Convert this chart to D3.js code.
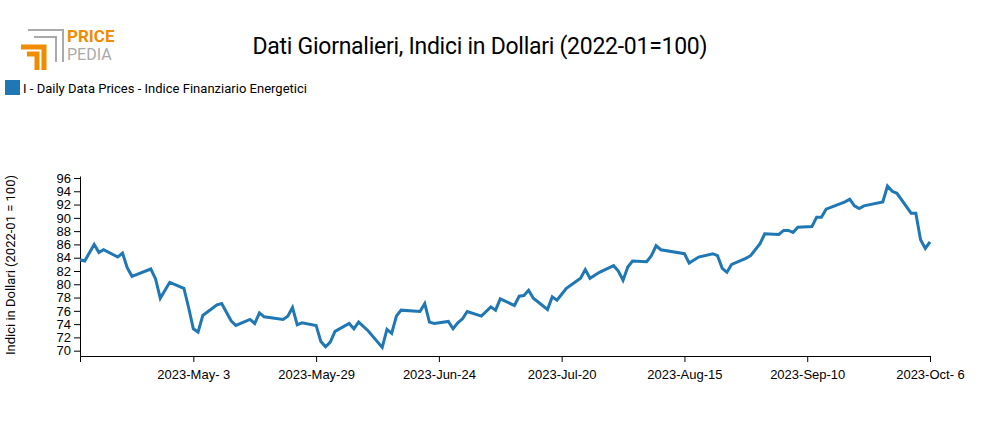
<!DOCTYPE html>
<html><head><meta charset="utf-8">
<script src="https://cdn.jsdelivr.net/npm/d3@7.9.0/dist/d3.min.js"></script>
<style>body{margin:0;background:#fff;font-family:Roboto,sans-serif}</style>
</head><body><svg id="chart" width="985" height="430"></svg>
<script>
// days since 2023-04-09 and index values
const startDate = new Date(2023, 3, 9);
const days = [0,1,3,4,5,8,9,10,11,15,16,17,19,22,23,24,25,26,29,30,32,33,36,37,38,39,43,44,45,46,47,50,51,52,53,54,57,58,59,61,64,65,66,67,68,72,73,74,75,78,79,80,81,82,85,87,88,89,92,93,94,95,96,99,100,101,102,103,106,107,108,110,113,114,115,116,117,120,121,122,123,128,129,131,134,135,136,137,138,141,142,144,145,148,149,150,151,152,155,156,157,158,162,163,164,165,166,170,171,172,173,176,177,178,179,180];
const values = [83.7,83.5,86.0,84.8,85.2,84.1,84.7,82.5,81.2,82.3,80.8,77.9,80.3,79.4,76.5,73.3,72.8,75.3,76.9,77.1,74.5,73.8,74.7,74.1,75.7,75.1,74.7,75.2,76.5,73.9,74.2,73.8,71.4,70.6,71.3,72.9,74.1,73.3,74.3,73.0,70.5,73.2,72.6,75.2,76.1,75.9,77.1,74.3,74.1,74.4,73.3,74.2,74.8,75.9,75.2,76.6,76.1,77.8,76.8,78.2,78.3,79.1,77.9,76.2,78.1,77.6,78.5,79.4,80.9,82.2,80.9,81.8,82.8,82.0,80.6,82.6,83.5,83.4,84.3,85.8,85.2,84.6,83.2,84.1,84.6,84.3,82.4,81.8,83.0,83.9,84.3,86.1,87.6,87.5,88.1,88.1,87.8,88.6,88.7,90.1,90.1,91.3,92.4,92.8,91.8,91.4,91.8,92.4,94.8,94.0,93.7,90.7,90.7,86.7,85.4,86.4];
const tickDates = ["2023-05-03","2023-05-29","2023-06-24","2023-07-20","2023-08-15","2023-09-10","2023-10-06"];
const yTicks = d3.range(70, 97, 2);

const data = days.map((d, i) => ({date: d3.timeDay.offset(startDate, d), value: values[i]}));
const svg = d3.select("#chart");
const margin = {left: 80, right: 55, top: 176, bottom: 74};
const width = 985 - margin.left - margin.right, height = 430 - margin.top - margin.bottom;

// logo
const logo = svg.append("g");
logo.append("path").attr("d","M28,30 H63 V62 M34,37 H56 V62").attr("fill","none").attr("stroke","#aaa").attr("stroke-width",2);
logo.append("path").attr("d","M21,47 H44 V70 M27,54 H37 V70").attr("fill","none").attr("stroke","#f08c00").attr("stroke-width",5);
logo.append("text").attr("x",67).attr("y",42).attr("font-size",17).attr("font-weight","bold").attr("fill","#f08c00").text("PRICE");
logo.append("text").attr("x",67).attr("y",60).attr("font-size",16).attr("fill","#aaa").text("PEDIA");

svg.append("text").attr("x",480).attr("y",54).attr("text-anchor","middle").attr("font-size",23)
  .attr("textLength",455).text("Dati Giornalieri, Indici in Dollari (2022-01=100)");

svg.append("rect").attr("x",5).attr("y",80).attr("width",15).attr("height",15).attr("fill","#1f77b4");
svg.append("text").attr("x",23).attr("y",93).attr("font-size",13).attr("textLength",284).text("I - Daily Data Prices - Indice Finanziario Energetici");

const x = d3.scaleTime().domain([startDate, new Date(2023, 9, 6)]).range([0, width]);
const y = d3.scaleLinear().domain([69.2, 96.3]).range([height, 0]);
const g = svg.append("g").attr("transform", `translate(${margin.left},${margin.top})`);

g.append("g").attr("transform", `translate(0,${height})`)
  .call(d3.axisBottom(x).tickValues(tickDates.map(s => d3.timeParse("%Y-%m-%d")(s))).tickFormat(d3.timeFormat("%Y-%b-%e")).tickSizeOuter(6))
  .call(a => a.selectAll("text").attr("font-size",13).attr("dy","1.1em"));
g.append("g").call(d3.axisLeft(y).tickValues(yTicks).tickSizeOuter(0))
  .call(a => a.selectAll("text").attr("font-size",13));

g.append("path").datum(data).attr("fill","none").attr("stroke","#1f77b4").attr("stroke-width",3)
  .attr("d", d3.line().x(d => x(d.date)).y(d => y(d.value)));

svg.append("text").attr("transform","translate(15,265) rotate(-90)").attr("text-anchor","middle").attr("font-size",13)
  .text("Indici in Dollari (2022-01 = 100)");
</script></body></html>
